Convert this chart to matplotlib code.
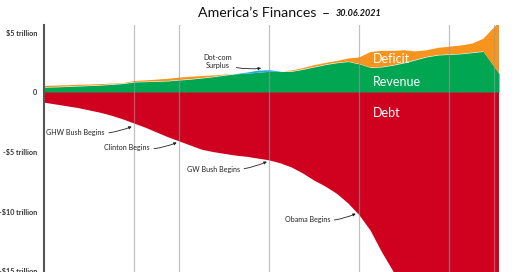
import matplotlib.pyplot as plt
import numpy as np

plt.rcParams['font.family'] = ['Lato', 'DejaVu Sans']

# values in trillions of dollars
years = [1981, 1982, 1983, 1984, 1985, 1986, 1987, 1988, 1989, 1990,
         1991, 1992, 1993, 1994, 1995, 1996, 1997, 1998, 1999, 2000,
         2001, 2002, 2003, 2004, 2005, 2006, 2007, 2008, 2009, 2010,
         2011, 2012, 2013, 2014, 2015, 2016, 2017, 2018, 2019, 2020, 2021.4]
revenue = [0.45, 0.47, 0.50, 0.54, 0.58, 0.62, 0.68, 0.75, 0.88, 0.91,
           0.94, 0.97, 1.05, 1.12, 1.22, 1.32, 1.45, 1.58, 1.72, 1.88,
           1.92, 1.78, 1.78, 1.95, 2.15, 2.35, 2.50, 2.60, 2.40, 2.10,
           2.15, 2.30, 2.50, 2.75, 3.00, 3.15, 3.20, 3.25, 3.35, 3.45, 1.60]
spending = [0.55, 0.58, 0.61, 0.64, 0.67, 0.70, 0.74, 0.78, 0.96, 1.02,
            1.08, 1.15, 1.25, 1.32, 1.38, 1.43, 1.50, 1.57, 1.62, 1.70,
            1.78, 1.76, 1.85, 2.05, 2.30, 2.48, 2.65, 2.85, 2.95, 3.40,
            3.50, 3.50, 3.55, 3.45, 3.55, 3.75, 3.85, 3.95, 4.10, 4.50, 5.90]
debt = [0.85, 1.00, 1.15, 1.30, 1.50, 1.70, 1.95, 2.25, 2.60, 2.95,
        3.35, 3.75, 4.10, 4.45, 4.80, 5.00, 5.15, 5.30, 5.40, 5.55,
        5.70, 5.95, 6.30, 6.80, 7.40, 7.90, 8.50, 9.30, 10.30, 11.60,
        13.40, 15.00, 16.70, 17.80, 18.20, 19.50, 20.20, 21.50, 22.70, 26.90, 28.40]

presidents = ['GHW Bush', 'Clinton', 'GW Bush', 'Obama', 'Trump', 'Biden']
starts = [1989, 1993, 2001, 2009, 2017, 2021]

yticks = [5, 0, -5, -10, -15]
ylabels = ['$5 trillion', '0', '-$5 trillion', '-$10 trillion', '-$15 trillion']

yr = np.array(years)
rev = np.array(revenue)
sp = np.array(spending)
dbt = np.array(debt)

fig = plt.figure(figsize=(5.2, 2.72), dpi=100)
ax = fig.add_axes([44 / 520, 0, 455 / 520, 1 - 25 / 272])

green = '#00a651'
orange = '#f7941d'
blue = '#29abe2'
red = '#d0011f'

ax.fill_between(yr, 0, np.minimum(rev, sp), color=green, lw=0)
ax.fill_between(yr, rev, sp, where=sp >= rev, interpolate=True, color=orange, lw=0)
ax.fill_between(yr, sp, rev, where=rev >= sp, interpolate=True, color=blue, lw=0)
ax.fill_between(yr, 0, -dbt, color=red, lw=0)

for s in starts:
    ax.axvline(s, color='#999999', alpha=0.6, lw=0.9)

ax.set_xlim(1981, 2021.4)
ax.set_ylim(-15.08, 5.67)
ax.set_xticks([])
ax.set_yticks(yticks)
ax.set_yticklabels(ylabels, fontsize=5.2, fontweight='bold', color='#333333')
ax.tick_params(axis='y', length=0, pad=5)
for side in ['top', 'right', 'bottom']:
    ax.spines[side].set_visible(False)
ax.spines['left'].set_color('#555555')
ax.spines['left'].set_linewidth(1.5)
ax.spines['left'].set_zorder(5)

ax.text(2010.2, 2.8, 'Deficit', color='white', fontsize=9, va='center')
ax.text(2010.2, 0.88, 'Revenue', color='white', fontsize=9, va='center')
ax.text(2010.2, -1.72, 'Debt', color='white', fontsize=9, va='center')

arrow = dict(arrowstyle='-|>', color='#222222', lw=0.6, mutation_scale=4,
             connectionstyle='arc3,rad=0.15', shrinkA=1, shrinkB=1)
notes = [('GHW Bush Begins', (1986.4, -3.32), (1988.9, -2.82)),
         ('Clinton Begins', (1990.4, -4.66), (1992.9, -4.16)),
         ('GW Bush Begins', (1998.4, -6.43), (2000.9, -5.76)),
         ('Obama Begins', (2006.4, -10.71), (2008.8, -10.13))]
for label, txt, tip in notes:
    ax.annotate(label, xy=tip, xytext=txt, fontsize=5.1, color='#222222',
                ha='right', va='center', arrowprops=arrow)
ax.annotate('Dot-com\nSurplus', xy=(2000.4, 2.06), xytext=(1996.45, 2.6),
            fontsize=5.3, color='#222222', ha='center', va='center',
            linespacing=1.1, arrowprops=arrow)

fig.text(198 / 520, 1 - 13 / 272, 'America\u2019s Finances', fontsize=10.2,
         va='center', ha='left', color='#111111')
fig.text(322 / 520, 1 - 14 / 272, '\u2013', fontsize=10, va='center', color='#111111')
fig.text(336 / 520, 1 - 14 / 272, '30.06.2021', fontsize=6.5, fontweight='bold',
         fontstyle='italic', va='center', color='#111111')

fig.savefig('out.png', dpi=100)
